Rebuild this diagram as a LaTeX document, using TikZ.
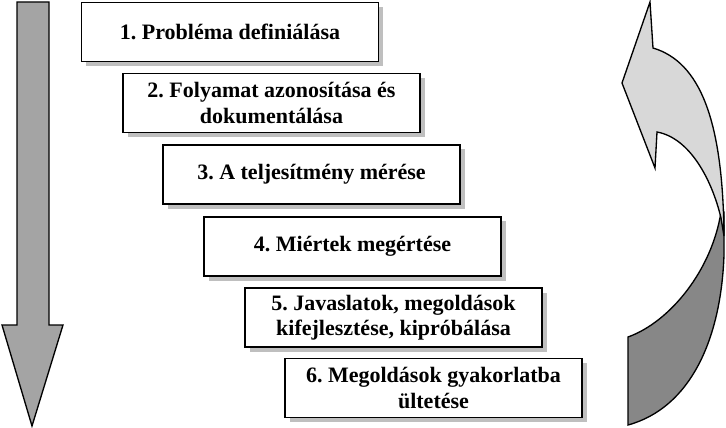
\documentclass[tikz,border=0pt]{standalone}
\usepackage{fontspec}
\setmainfont{Liberation Serif}
\usetikzlibrary{shadows}
\definecolor{arrowgray}{HTML}{A4A4A4}
\definecolor{lightg}{HTML}{D8D8D8}
\definecolor{darkg}{HTML}{878787}
\begin{document}
\frenchspacing
\begin{tikzpicture}[x=0.75pt,y=-0.75pt,
  box/.style={draw=black, line width=1.2pt, fill=white,
    minimum width=222.75pt, minimum height=44.5pt, inner sep=0pt,
    align=center, font=\fontsize{16.5}{19}\selectfont\bfseries\frenchspacing,
    general shadow={fill=gray!50, shadow xshift=3.5pt, shadow yshift=-3.5pt}},
  shape line/.style={draw=black, line width=1pt, line join=miter}]
\useasboundingbox (0,0) rectangle (726,428);

% left downward arrow
\path[shape line, fill=arrowgray] (17,2) -- (49,2) -- (49,325) -- (63,325) -- (32,426) -- (2,325) -- (17,325) -- cycle;

% right curved arrow: dark lower part
\path[shape line, fill=darkg] (628,337) .. controls (670,322) and (712,270) .. (721,212) -- (724,212) -- (724,255)
  .. controls (721,340) and (690,408) .. (628,425) -- cycle;
% light upper part with head
\path[shape line, fill=lightg] (650,2) -- (653,48) .. controls (700,62) and (723,120) .. (724,236)
  -- (721,218) .. controls (712,180) and (690,138) .. (657,132) -- (655,168) -- (622,83) -- cycle;

% boxes
\node[box] (b1) at (230,32) {1. Probléma definiálása};
\node[box] (b2) at (271.5,103) {2. Folyamat azonosítása és\\dokumentálása};
\node[box] (b3) at (311.5,174.5) {3. A teljesítmény mérése};
\node[box] (b4) at (352.5,246.5) {4. Miértek megértése};
\node[box] (b5) at (393.5,317.5) {5. Javaslatok, megoldások\\kifejlesztése, kipróbálása};
\node[box] (b6) at (433.5,388) {6. Megoldások gyakorlatba\\ültetése};
\end{tikzpicture}
\end{document}
